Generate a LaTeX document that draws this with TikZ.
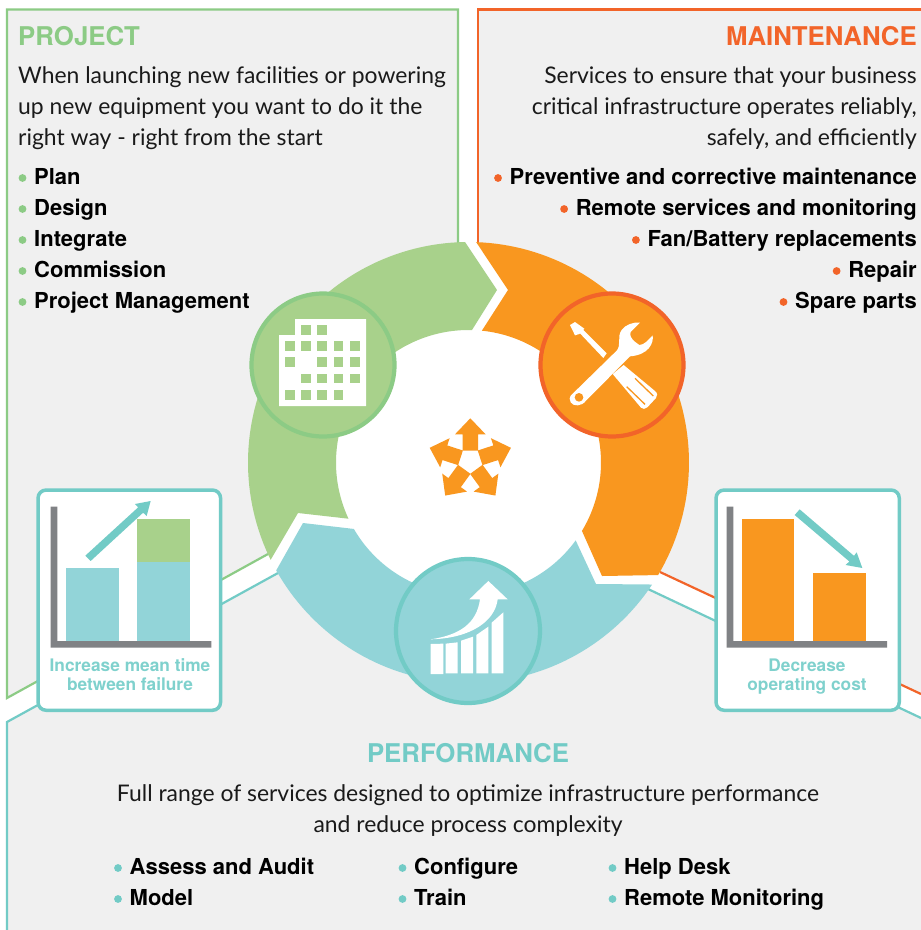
\documentclass[tikz,border=0pt]{standalone}
\usepackage{fontspec}
\setmainfont{Lato}
\newfontfamily\hb{TeX Gyre Heros}
\definecolor{panel}{HTML}{F0F0F0}
\definecolor{grn}{HTML}{A8D18B}
\definecolor{grnl}{HTML}{8CCB85}
\definecolor{org}{HTML}{F9971F}
\definecolor{orgl}{HTML}{F26429}
\definecolor{tea}{HTML}{92D4D8}
\definecolor{teal2}{HTML}{72CBC6}
\definecolor{cardink}{HTML}{7FD1CD}
\definecolor{axisg}{HTML}{808285}
\definecolor{ink}{HTML}{1A1A1A}
\newcommand\cx{468.5}
\newcommand\cy{462.5}
\newcommand\ro{220.5}
\newcommand\ri{132.5}
\tikzset{
  panelfill/.style={fill=panel,draw=none},
  heading/.style={inner sep=0pt,font=\fontsize{25.8}{26}\hb\bfseries},
  bodytext/.style={inner sep=0pt,text=ink,font=\fontsize{22.9}{26}\selectfont},
  bullettext/.style={inner sep=0pt,text=black,font=\fontsize{22}{26}\hb\bfseries},
  cardtext/.style={inner sep=0pt,text=cardink,font=\fontsize{17.3}{20}\hb\bfseries},
  card/.style={fill=white,draw=teal2,line width=3.5pt,rounded corners=8pt},
  ringicon/.style={line width=4.2pt},
  zoomA/.style={x=0.33333pt,y=-0.33333pt},
}
\newcommand\bulleted[6]{%
  \node[bullettext,anchor=#3] (#1) at (#4,#5) {#6};
  \fill[#2] ([shift={(-11.5,-6.5)}]#1.base west) circle (3.9);
}
\begin{document}
\begin{tikzpicture}[x=1pt,y=-1pt]
\useasboundingbox (0,0) rectangle (921,930);
\fill[white] (0,0) rectangle (921,930);
% panels
\path[panelfill] (7,698) -- (7,9.5) -- (458,9.5) -- (458,260) -- (300,500) -- (268,554) -- cycle;
\path[panelfill] (478,9.5) -- (921,9.5) -- (921,694) -- (660,572) -- (640,560) -- (640,400) -- (500,270) -- (478,243) -- cycle;
\path[panelfill] (7,930) -- (7,722) -- (278,573) -- (400,640) -- (600,620) -- (648,589) -- (921,718) -- (921,930) -- cycle;
\draw[grnl,line width=2.2pt] (268,554) -- (7,698) -- (7,9.5) -- (458,9.5) -- (458,244);
\draw[orgl,line width=2.2pt] (478,244) -- (478,9.5) -- (921,9.5);
\draw[orgl,line width=2.2pt] (660,572) -- (921,694);
\draw[teal2,line width=2.2pt] (7,930) -- (7,722) -- (278,573);
\draw[teal2,line width=2.2pt] (648,589) -- (921,718);
% ring
\fill[white] (\cx,\cy) circle (\ri+4);
\fill[grn] plot[domain=153.8:269.1,samples=70] ({\cx+\ro*cos(\x)},{\cy+\ro*sin(\x)}) -- (497,290) -- plot[domain=271.5:154.9,samples=70] ({\cx+\ri*cos(\x)},{\cy+\ri*sin(\x)}) -- (298,513) -- cycle;
\fill[org] plot[domain=-88:30.7,samples=70] ({\cx+\ro*cos(\x)},{\cy+\ro*sin(\x)}) -- (602,576) -- plot[domain=31.1:-84.2,samples=70] ({\cx+\ri*cos(\x)},{\cy+\ri*sin(\x)}) -- (508,290) -- cycle;
\fill[tea] plot[domain=33.6:150.7,samples=70] ({\cx+\ro*cos(\x)},{\cy+\ro*sin(\x)}) -- (303,523) -- plot[domain=149.9:36,samples=70] ({\cx+\ri*cos(\x)},{\cy+\ri*sin(\x)}) -- (596,584) -- cycle;
% circles
\node[circle,minimum size=143pt,fill=grn,draw=grnl,ringicon,inner sep=0pt] (cproject) at (323,365) {};
\node[circle,minimum size=143pt,fill=org,draw=orgl,ringicon,inner sep=0pt] (cmaint) at (612,365) {};
\node[circle,minimum size=144pt,fill=tea,draw=teal2,ringicon,inner sep=0pt] (cperf) at (468,631) {};
% building icon
\fill[white] (279,335) -- (295,335) -- (295,319) -- (366,319) -- (366,406) -- (279,406) -- cycle;
\foreach \c/\r in {1/0,2/0, 0/1,1/1,2/1,3/1,4/1, 0/2,2/2,3/2,4/2, 1/3,2/3,3/3,4/3, 0/4,1/4,2/4,3/4}
  \fill[grn] ({285+16.2*\c},{325+16.2*\r}) rectangle ++(9.8,9.8);
% tools icon
\begin{scope}[shift={(440,230)},zoomA]
\fill[white] (390,285) -- (405,276) -- (433,296) -- (418,312) -- (405,316) -- cycle;
\fill[white] (418,308) -- (428,298) -- (500,370) -- (490,384) -- cycle;
\fill[white] (551,405) -- (645,483) .. controls (653,490) and (653,497) .. (648,504) -- (622,532) .. controls (615,538) and (608,538) .. (603,533) -- (518,432) -- cycle;
\draw[org,line width=1.3pt] (585,445) -- (640,498);
\draw[org,line width=1.3pt] (560,470) -- (615,523);
\fill[white] (392,497) -- (530,362) .. controls (545,345) and (530,320) .. (545,300) .. controls (555,285) and (580,275) .. (600,278) -- (572,306) .. controls (568,318) and (575,325) .. (582,333) -- (598,345) .. controls (612,345) and (625,330) .. (638,316) .. controls (642,340) and (625,375) .. (570,379) -- (438,512) .. controls (425,530) and (400,530) .. (392,517) .. controls (388,508) and (388,502) .. (392,497) -- cycle;
\fill[org] (417,502) circle (13);
\end{scope}
% growth icon
\begin{scope}[shift={(380,400)},zoomA]
\fill[white] (152,732) -- (190,731) -- (190,822) -- (152,822) -- cycle;
\fill[white] (197,731) -- (233,727) -- (233,820) -- (197,820) -- cycle;
\fill[white] (243,722) -- (279,710) -- (279,820) -- (243,820) -- cycle;
\fill[white] (289,705) -- (325,680) -- (325,820) -- (289,820) -- cycle;
\fill[white] (335,668) -- (370,637) -- (370,820) -- (335,820) -- cycle;
\fill[white] (325,543) -- (383,598) -- (353,598) .. controls (345,665) and (270,715) .. (152,718) .. controls (240,705) and (290,670) .. (300,598) -- (268,598) -- cycle;
\end{scope}
% star of arrows
\foreach \a in {0,72,144,216,288}
  \fill[org,shift={(470.3,461)},rotate=\a] (0,-42.7) -- (15.3,-26.7) -- (7.7,-26.7) -- (7.7,-10.3) -- (-7.7,-10.3) -- (-7.7,-26.7) -- (-15.3,-26.7) -- cycle;
% left card
\node[card,anchor=north west,minimum width=182.5pt,minimum height=220.2pt,inner sep=0pt] (cardup) at (36.3,488.3) {};
\fill[tea] (66,568) rectangle (119,641);
\fill[tea] (137,562) rectangle (190,641);
\fill[grn] (137,519) rectangle (190,562);
\fill[axisg] (50.7,506.7) -- (57.3,506.7) -- (57.3,641) -- (211.3,641) -- (211.3,647.7) -- (50.7,647.7) -- cycle;
\begin{scope}[zoomA,shift={(0,1440)}]
\fill[teal2] (256,227) -- (414.6,81.9) -- (405,72) -- (452,63) -- (440,108) -- (429.4,98.1) -- (272,243) -- cycle;
\end{scope}
\node[cardtext,anchor=base] (uplabel1) at (130,671.7) {Increase mean time};
\node[cardtext,anchor=base] (uplabel2) at (130,690.7) {between failure};
% right card
\node[card,anchor=north west,minimum width=183.2pt,minimum height=220.2pt,inner sep=0pt] (carddown) at (714.3,488.3) {};
\fill[org] (742,519.3) rectangle (794.3,641);
\fill[org] (813,573) rectangle (866,641);
\fill[axisg] (726.7,506.7) -- (733.3,506.7) -- (733.3,641) -- (887,641) -- (887,647.7) -- (726.7,647.7) -- cycle;
\begin{scope}[shift={(640,480)},zoomA]
\fill[teal2] (464,105) -- (479,88) -- (642,227.6) -- (650,217) -- (667,264) -- (617,255) -- (628,244.4) -- cycle;
\end{scope}
\node[cardtext,anchor=base] (downlabel1) at (807,671.7) {Decrease};
\node[cardtext,anchor=base] (downlabel2) at (807,690.7) {operating cost};
% project text
\node[heading,text=grnl,anchor=base west] (projecthead) at (18,45) {PROJECT};
\node[bodytext,anchor=base west] (pb1) at (18,83) {When launching new facilities or powering};
\node[bodytext,anchor=base west] (pb2) at (18,114) {up new equipment you want to do it the};
\node[bodytext,anchor=base west] (pb3) at (18,145) {right way - right from the start};
\bulleted{pi1}{grnl}{base west}{34}{184.5}{Plan}
\bulleted{pi2}{grnl}{base west}{34}{215.5}{Design}
\bulleted{pi3}{grnl}{base west}{34}{246.5}{Integrate}
\bulleted{pi4}{grnl}{base west}{34}{277.5}{Commission}
\bulleted{pi5}{grnl}{base west}{34}{308.5}{Project Management}
% maintenance text
\node[heading,text=orgl,anchor=base east] (mainthead) at (917,45) {MAINTENANCE};
\node[bodytext,anchor=base east] (mb1) at (917,83) {Services to ensure that your business};
\node[bodytext,anchor=base east] (mb2) at (917,114) {critical infrastructure operates reliably,};
\node[bodytext,anchor=base east] (mb3) at (917,145) {safely, and efficiently};
\bulleted{mi1}{orgl}{base east}{917}{184.5}{Preventive and corrective maintenance}
\bulleted{mi2}{orgl}{base east}{917}{215.5}{Remote services and monitoring}
\bulleted{mi3}{orgl}{base east}{917}{246.5}{Fan/Battery replacements}
\bulleted{mi4}{orgl}{base east}{917}{277.5}{Repair}
\bulleted{mi5}{orgl}{base east}{917}{308.5}{Spare parts}
% performance text
\node[heading,text=teal2,anchor=base] (perfhead) at (468,762) {PERFORMANCE};
\node[bodytext,anchor=base] (fb1) at (468,801) {Full range of services designed to optimize infrastructure performance};
\node[bodytext,anchor=base] (fb2) at (468,832) {and reduce process complexity};
\bulleted{fi1}{teal2}{base west}{129.5}{874.5}{Assess and Audit}
\bulleted{fi2}{teal2}{base west}{129.5}{905.5}{Model}
\bulleted{fi3}{teal2}{base west}{414}{874.5}{Configure}
\bulleted{fi4}{teal2}{base west}{414}{905.5}{Train}
\bulleted{fi5}{teal2}{base west}{624}{874.5}{Help Desk}
\bulleted{fi6}{teal2}{base west}{624}{905.5}{Remote Monitoring}
\end{tikzpicture}
\end{document}
